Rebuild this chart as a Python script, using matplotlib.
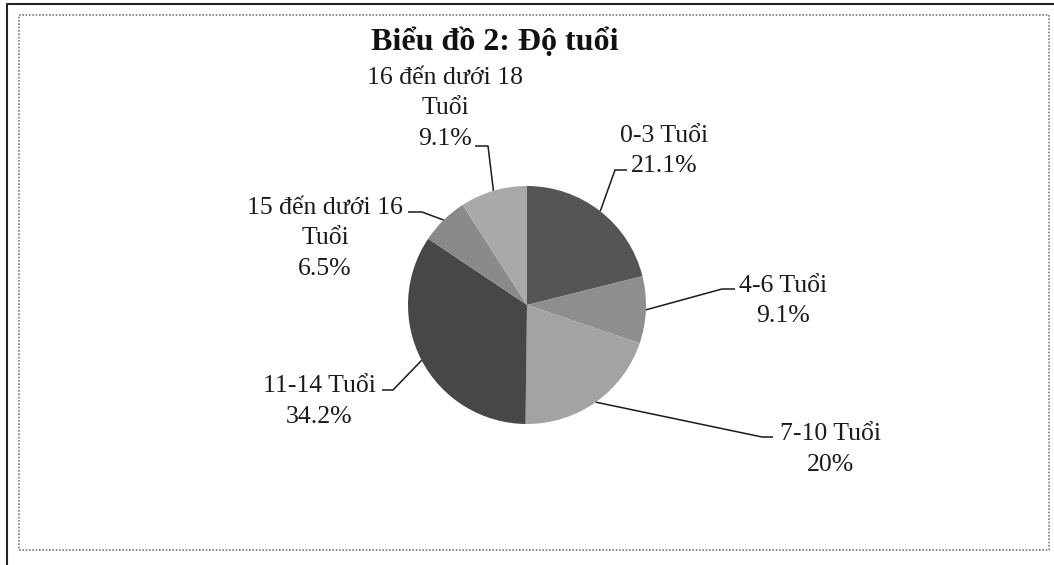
"""Biểu đồ 2: Độ tuổi - pie chart of age groups."""
import matplotlib
matplotlib.use("Agg")
import matplotlib.pyplot as plt
import numpy as np
from matplotlib.lines import Line2D
from matplotlib.patches import Rectangle

plt.rcParams["font.family"] = ["Liberation Serif", "DejaVu Serif"]

W, H = 1054, 565

# ---- data ----
groups = ["0-3 Tuổi", "4-6 Tuổi", "7-10 Tuổi", "11-14 Tuổi",
          "15 đến dưới 16\nTuổi", "16 đến dưới 18\nTuổi"]
shares = [21.1, 9.1, 20, 34.2, 6.5, 9.1]
share_labels = ["21.1%", "9.1%", "20%", "34.2%", "6.5%", "9.1%"]
colors = ["#555555", "#8e8e8e", "#a3a3a3", "#474747", "#8a8a8a", "#a9a9a9"]

# label layout (image pixel coords: text centre x, baseline of last line)
text_pos = [(664, 172), (783, 322), (831, 471), (319, 423), (325, 275), (445, 145)]
# leader: end near text, corner
leader = [((627, 170), (615, 170)), ((735, 289), (722, 289)),
          ((773, 437), (762, 437)), ((382, 390), (393, 390)),
          ((408, 212), (422, 212)), ((475, 146), (488, 146))]

PIE_C = (527, 305)
PIE_R = 119


def Y(y):
    return H - y


fig = plt.figure(figsize=(W / 100, H / 100), dpi=100)
ax = fig.add_axes([0, 0, 1, 1])

wedges, _ = ax.pie(shares, colors=colors, startangle=90, counterclock=False,
                   center=(PIE_C[0], Y(PIE_C[1])), radius=PIE_R,
                   wedgeprops=dict(linewidth=0))
ax.set_xlim(0, W)
ax.set_ylim(0, H)
ax.set_aspect("auto")
ax.axis("off")

for w, name, pct, (tx, ty), (p_end, p_corner) in zip(
        wedges, groups, share_labels, text_pos, leader):
    mid = np.deg2rad((w.theta1 + w.theta2) / 2)
    ex = PIE_C[0] + PIE_R * np.cos(mid)
    ey = Y(PIE_C[1]) + PIE_R * np.sin(mid)
    ax.plot([p_end[0], p_corner[0], ex], [Y(p_end[1]), Y(p_corner[1]), ey],
            color="#1a1a1a", lw=1.1, solid_capstyle="butt")
    ax.text(tx, Y(ty), f"{name}\n{pct}", ha="center", va="baseline",
            fontsize=18.5, linespacing=1.5, color="#1a1a1a")

ax.text(495, Y(50), "Biểu đồ 2: Độ tuổi", ha="center", va="baseline",
        fontsize=23, fontweight="bold", color="#111111")

# frames
ax.add_patch(Rectangle((19, Y(550)), 1049 - 19, 550 - 15, fill=False,
                       ec="#7a7a7a", lw=1.2, ls=(0, (1, 1))))
ax.add_line(Line2D([7, 7, W], [0, Y(4), Y(4)], color="#222222", lw=1.5))

fig.savefig("out.png", dpi=100)
